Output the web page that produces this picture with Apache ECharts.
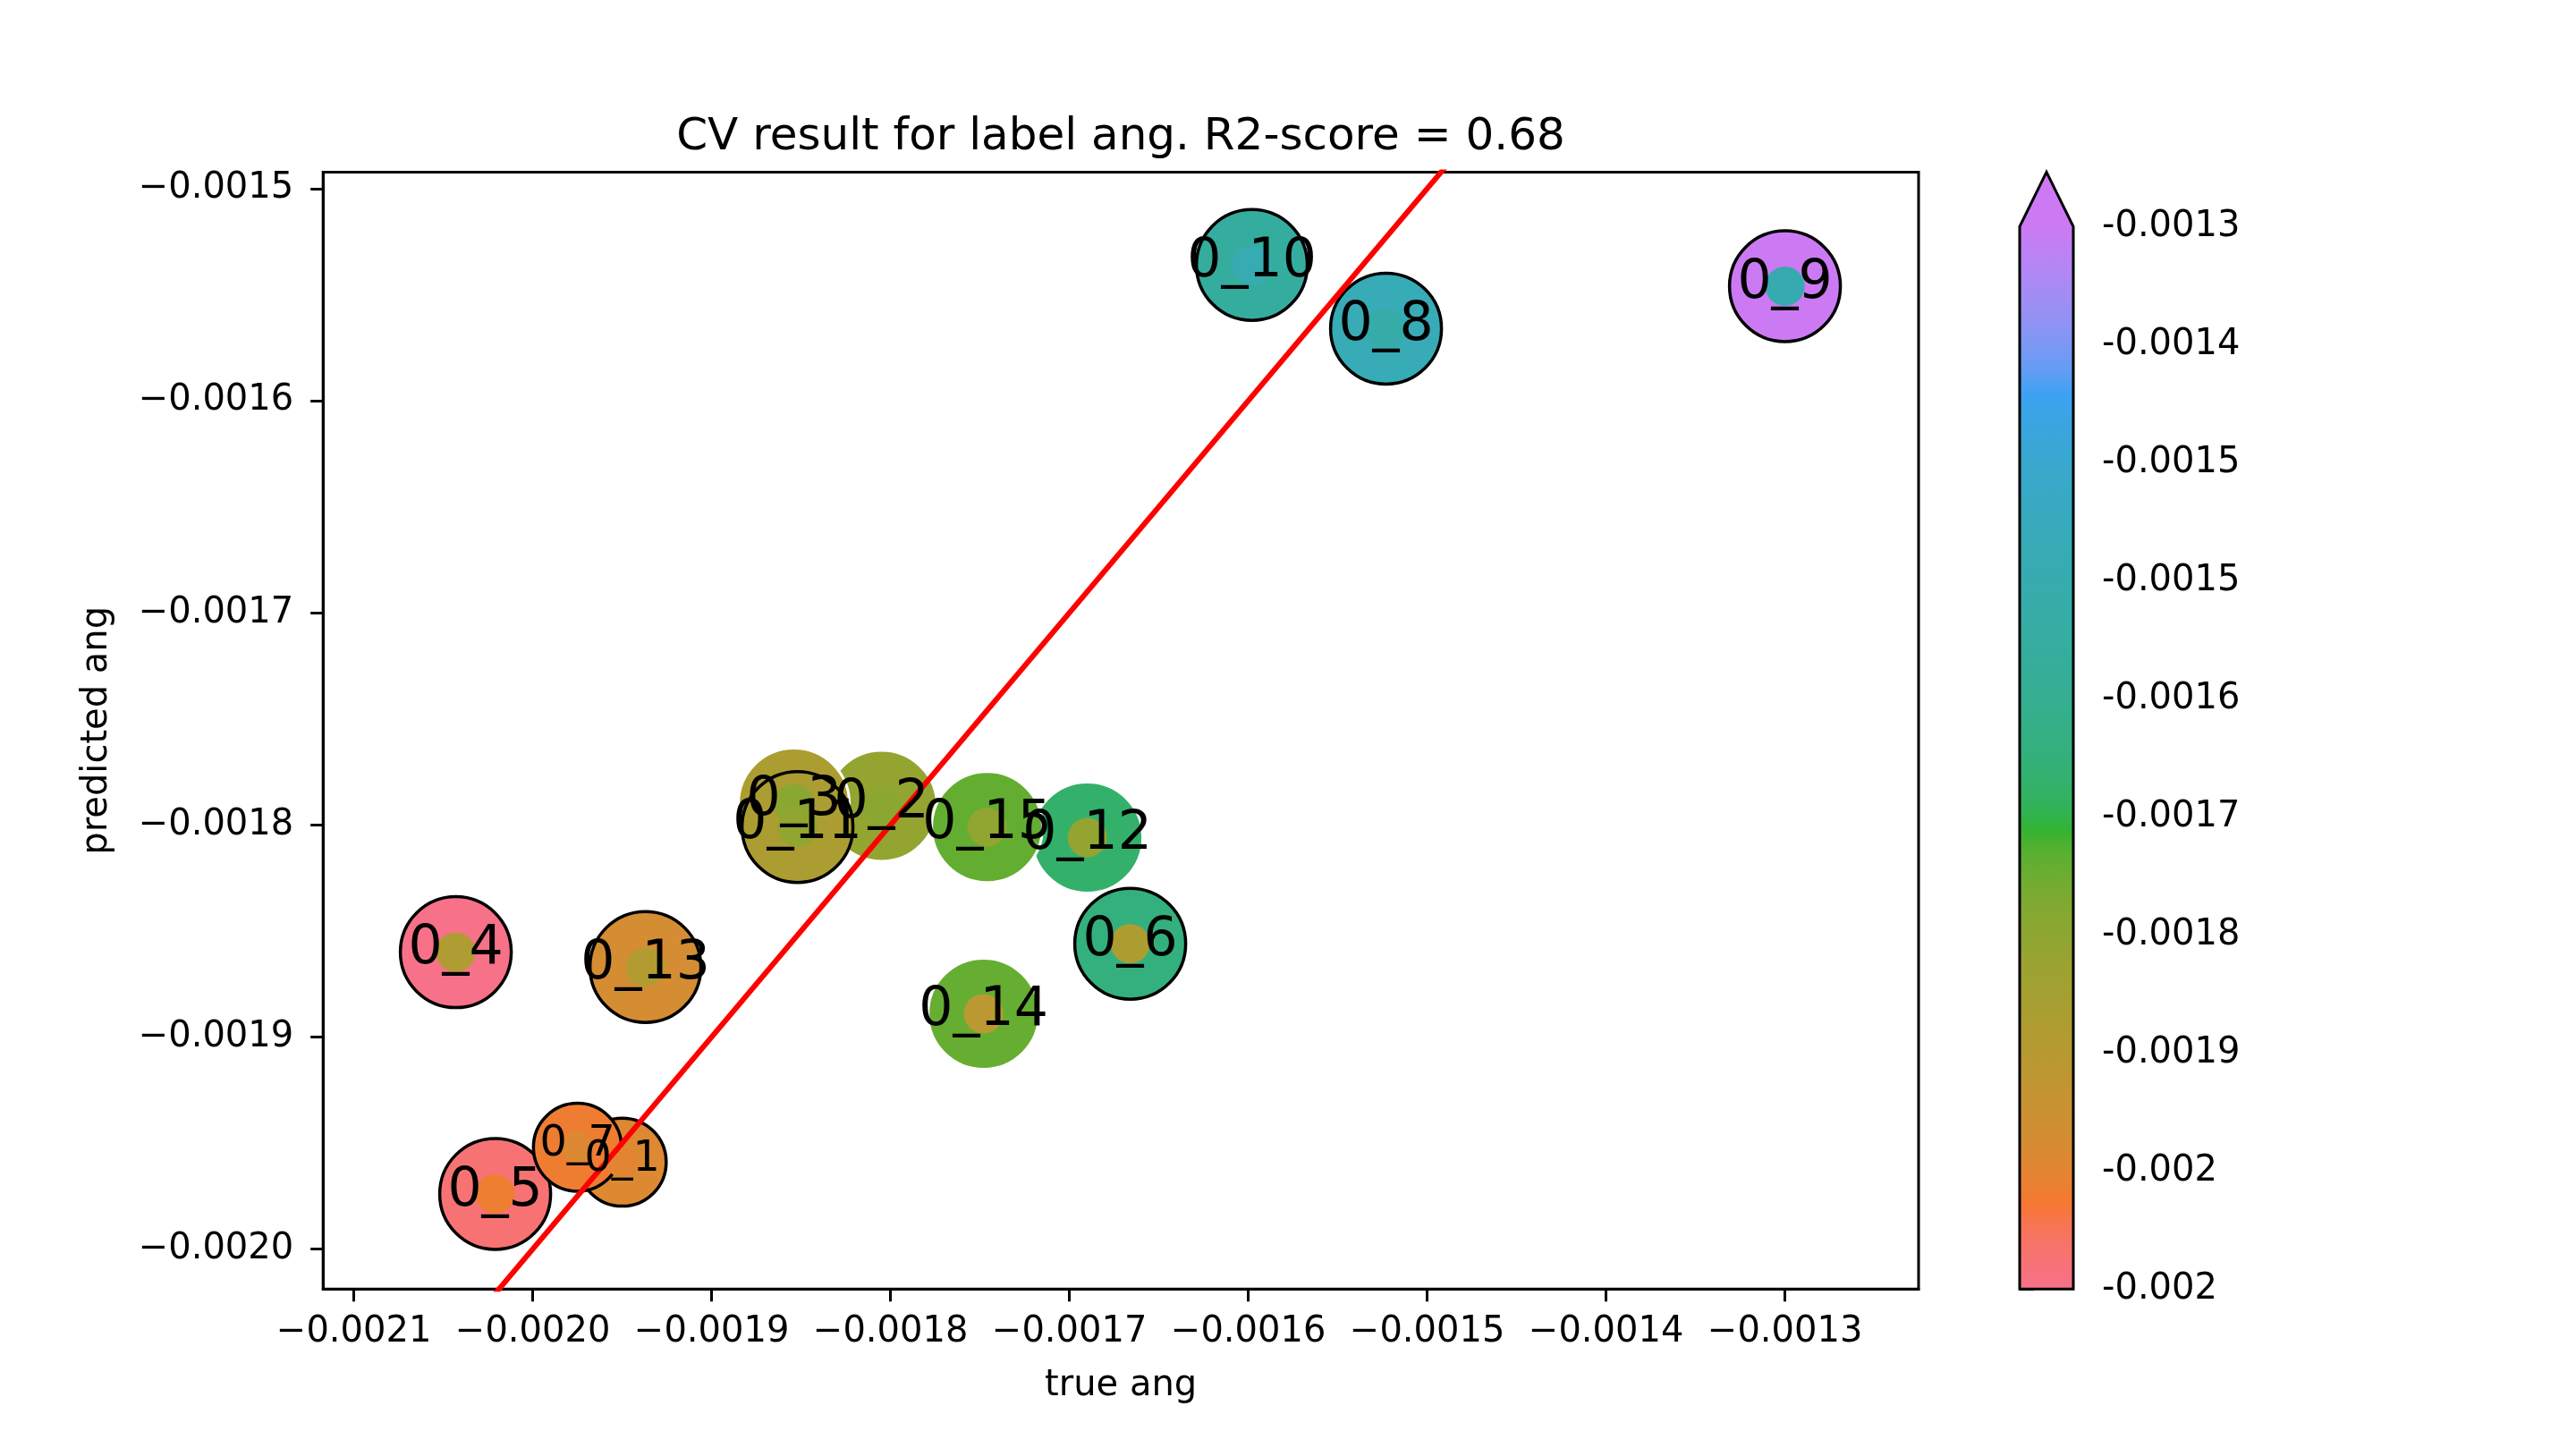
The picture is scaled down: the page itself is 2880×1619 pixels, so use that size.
<!DOCTYPE html>
<html><head><meta charset="utf-8">
<script src="https://cdn.jsdelivr.net/npm/echarts@6/dist/echarts.min.js"></script>
<style>html,body{margin:0;padding:0;background:#fff}#c{width:2880px;height:1619px}</style>
</head><body><div id="c"></div>
<script>
// ---------------- data ----------------
const names    = ['0_1','0_2','0_3','0_4','0_5','0_6','0_7','0_8','0_9','0_10','0_11','0_12','0_13','0_14','0_15'];
const trueAng  = [-0.001950,-0.001805,-0.001854,-0.002043,-0.002021,-0.001666,-0.001975,-0.001523,-0.001300,-0.001598,-0.001852,-0.001690,-0.001937,-0.001748,-0.001746];
const predAng  = [-0.001959,-0.001791,-0.001790,-0.001860,-0.001974,-0.001856,-0.001952,-0.001566,-0.001546,-0.001536,-0.001801,-0.001806,-0.001867,-0.001889,-0.001801];
const weight   = [0.63,1,1,1,1,1,0.63,1,1,1,1,1,1,1,1];
const outlined = [1,0,0,1,1,1,1,1,1,1,1,0,1,0,0];
const xTicks = [-0.0021,-0.0020,-0.0019,-0.0018,-0.0017,-0.0016,-0.0015,-0.0014,-0.0013];
const yTicks = [-0.0020,-0.0019,-0.0018,-0.0017,-0.0016,-0.0015];
const xLim = [-0.0021172,-0.0012253];
const yLim = [-0.0020188,-0.0014922];
const titleText = 'CV result for label ang. R2-score = 0.68';
const xName = 'true ang', yName = 'predicted ang';

// ---------------- colormap (HUSL, seaborn style) ----------------
const M = [[3.2406,-1.5372,-0.4986],[-0.9689,1.8758,0.0415],[0.0557,-0.2040,1.0570]];
const refU = 0.19784, refV = 0.46834, labE = 0.008856, labK = 903.3;
function maxChroma(L,H){
  const hr = H*Math.PI/180, s = Math.sin(hr), c = Math.cos(hr);
  const sub1 = Math.pow(L+16,3)/1560896; const sub2 = sub1>labE ? sub1 : L/labK;
  let res = Infinity;
  for (const [m1,m2,m3] of M){
    const top = (0.99915*m1 + 1.05122*m2 + 1.14460*m3)*sub2;
    const rb = 0.86330*m3 - 0.17266*m2;
    const lb = 0.12949*m3 - 0.38848*m1;
    const bottom = (rb*s + lb*c)*sub2;
    for (const t of [0,1]){
      const C = L*(top - 1.05122*t)/(bottom + 0.17266*s*t);
      if (C>0 && C<res) res = C;
    }
  }
  return res;
}
function husl(H,S,L){
  const C = maxChroma(L,H)/100*S;
  const hr = H*Math.PI/180;
  const U = Math.cos(hr)*C, V = Math.sin(hr)*C;
  const t = (L+16)/116; const Y = t*t*t > labE ? t*t*t : (116*t-16)/labK;
  const vu = U/(13*L)+refU, vv = V/(13*L)+refV;
  const X = -(9*Y*vu)/((vu-4)*vv - vu*vv);
  const Z = (9*Y - 15*vv*Y - vv*X)/(3*vv);
  const rgb = M.map(([a,b,c]) => { let v = a*X+b*Y+c*Z; v = v<=0.0031308 ? 12.92*v : 1.055*Math.pow(v,1/2.4)-0.055; return Math.round(Math.min(1,Math.max(0,v))*255); });
  return 'rgb('+rgb.join(',')+')';
}
const cmap = f => husl(3.59 + 287.2*f, 89.1, 64.35);
const NC = 96;
const cmapColors = Array.from({length:NC}, (_,i) => cmap(i/(NC-1)));

const vmin = Math.min(...trueAng), vmax = Math.max(...trueAng);
const cbTicks = Array.from({length:10}, (_,i) => vmin + i*(vmax-vmin)/9);
const ext = (vmax - vmin) * 61/1188;

// ---------------- style constants ----------------
const FONT = 'DejaVu Sans';
const OUTER_D = 124, INNER_D = 44, LABEL_FS = 60;
const fmtAxis = v => (v < 0 ? '\u2212' : '') + Math.abs(v).toFixed(4);
const fmtCb = v => String(parseFloat(v.toFixed(4)));

const outerData = trueAng.map((x,i) => ({
  value:[x, predAng[i]],
  symbolSize: OUTER_D*Math.sqrt(weight[i]),
  itemStyle:{borderColor: outlined[i] ? '#000' : '#fff', borderWidth: outlined[i] ? 3.5 : 3}
}));
const innerData = trueAng.map((x,i) => ({value:[x, predAng[i]], symbolSize: INNER_D*Math.sqrt(weight[i])}));
const labelData = trueAng.map((x,i) => ({value:[x, predAng[i]], label:{fontSize: LABEL_FS*Math.sqrt(weight[i])}}));

const axisCommon = {
  splitLine:{show:false},
  axisLine:{show:true, onZero:false, lineStyle:{color:'#000', width:3}},
  nameLocation:'middle',
  nameTextStyle:{fontFamily:FONT, fontSize:40, color:'#000'}
};

const chart = echarts.init(document.getElementById('c'), null, {renderer:'canvas'});
chart.setOption({
  animation:false,
  backgroundColor:'#fff',
  title:{text:titleText, left:1253, top:129, padding:0, textAlign:'center',
    textStyle:{fontFamily:FONT, fontSize:50, fontWeight:'normal', color:'#000'}},
  grid:[
    {left:361.2, top:192.4, width:1783.8, height:1248.8, show:true, borderColor:'#000', borderWidth:3, backgroundColor:'transparent'},
    {left:2258, top:192.4, width:60, height:1248.8}
  ],
  xAxis:[
    Object.assign({}, axisCommon, {type:'value', gridIndex:0, min:xLim[0], max:xLim[1], name:xName, nameGap:88,
      axisTick:{show:true, length:14, lineStyle:{color:'#000', width:3}, customValues:xTicks},
      axisLabel:{customValues:xTicks, formatter:fmtAxis, fontFamily:FONT, fontSize:40, color:'#000', margin:28}}),
    {type:'value', gridIndex:1, min:0, max:1, show:false}
  ],
  yAxis:[
    Object.assign({}, axisCommon, {type:'value', gridIndex:0, min:yLim[0], max:yLim[1], name:yName, nameGap:233,
      axisTick:{show:true, length:14, lineStyle:{color:'#000', width:3}, customValues:yTicks},
      axisLabel:{customValues:yTicks, formatter:fmtAxis, fontFamily:FONT, fontSize:40, color:'#000', margin:33}}),
    {type:'value', gridIndex:1, position:'right', min:vmin, max:vmax+ext,
      splitLine:{show:false}, axisLine:{show:false},
      axisTick:{show:true, length:16, lineStyle:{color:'#000', width:3}, customValues:cbTicks},
      axisLabel:{customValues:cbTicks, formatter:fmtCb, fontFamily:FONT, fontSize:40, color:'#000', margin:32}}
  ],
  visualMap:[
    {type:'continuous', show:false, seriesIndex:0, dimension:0, min:vmin, max:vmax, inRange:{color:cmapColors}},
    {type:'continuous', show:false, seriesIndex:1, dimension:1, min:vmin, max:vmax, inRange:{color:cmapColors}}
  ],
  series:[
    {type:'scatter', xAxisIndex:0, yAxisIndex:0, data:outerData, symbol:'circle', z:2, silent:true, emphasis:{disabled:true},
      itemStyle:{opacity:1}},
    {type:'scatter', xAxisIndex:0, yAxisIndex:0, data:innerData, symbol:'circle', z:3, silent:true, emphasis:{disabled:true},
      itemStyle:{borderWidth:0, opacity:1}},
    {type:'line', xAxisIndex:0, yAxisIndex:0, data:[[xLim[0],xLim[0]],[xLim[1],xLim[1]]], showSymbol:false, clip:true, z:4, silent:true,
      lineStyle:{color:'#ff0000', width:6, opacity:1}, emphasis:{disabled:true}},
    {type:'scatter', xAxisIndex:0, yAxisIndex:0, data:labelData, symbol:'circle', symbolSize:1, z:5, silent:true, emphasis:{disabled:true},
      itemStyle:{color:'rgba(0,0,0,0)', opacity:1},
      label:{show:true, position:'inside', offset:[0,-3], formatter:p => names[p.dataIndex], color:'#000', opacity:1,
        fontFamily:FONT, textBorderWidth:0}},
    {type:'custom', xAxisIndex:1, yAxisIndex:1, data:[[0]], z:2, silent:true,
      renderItem:(params, api) => {
        const bl = api.coord([0, vmin]), tl = api.coord([0, vmax]), tip = api.coord([0.5, vmax+ext]);
        const tr = api.coord([1, vmax]), br = api.coord([1, vmin]);
        const frac = (bl[1]-tl[1])/(bl[1]-tip[1]);
        const stops = cmapColors.map((c,i) => ({offset: frac*i/(NC-1), color:c}));
        stops.push({offset:1, color:cmapColors[NC-1]});
        return {type:'polygon', shape:{points:[bl, tl, tip, tr, br]},
          style:{fill:new echarts.graphic.LinearGradient(0, bl[1], 0, tip[1], stops, true), stroke:'#000', lineWidth:3, lineJoin:'miter'}};
      }}
  ]
});
</script></body></html>
